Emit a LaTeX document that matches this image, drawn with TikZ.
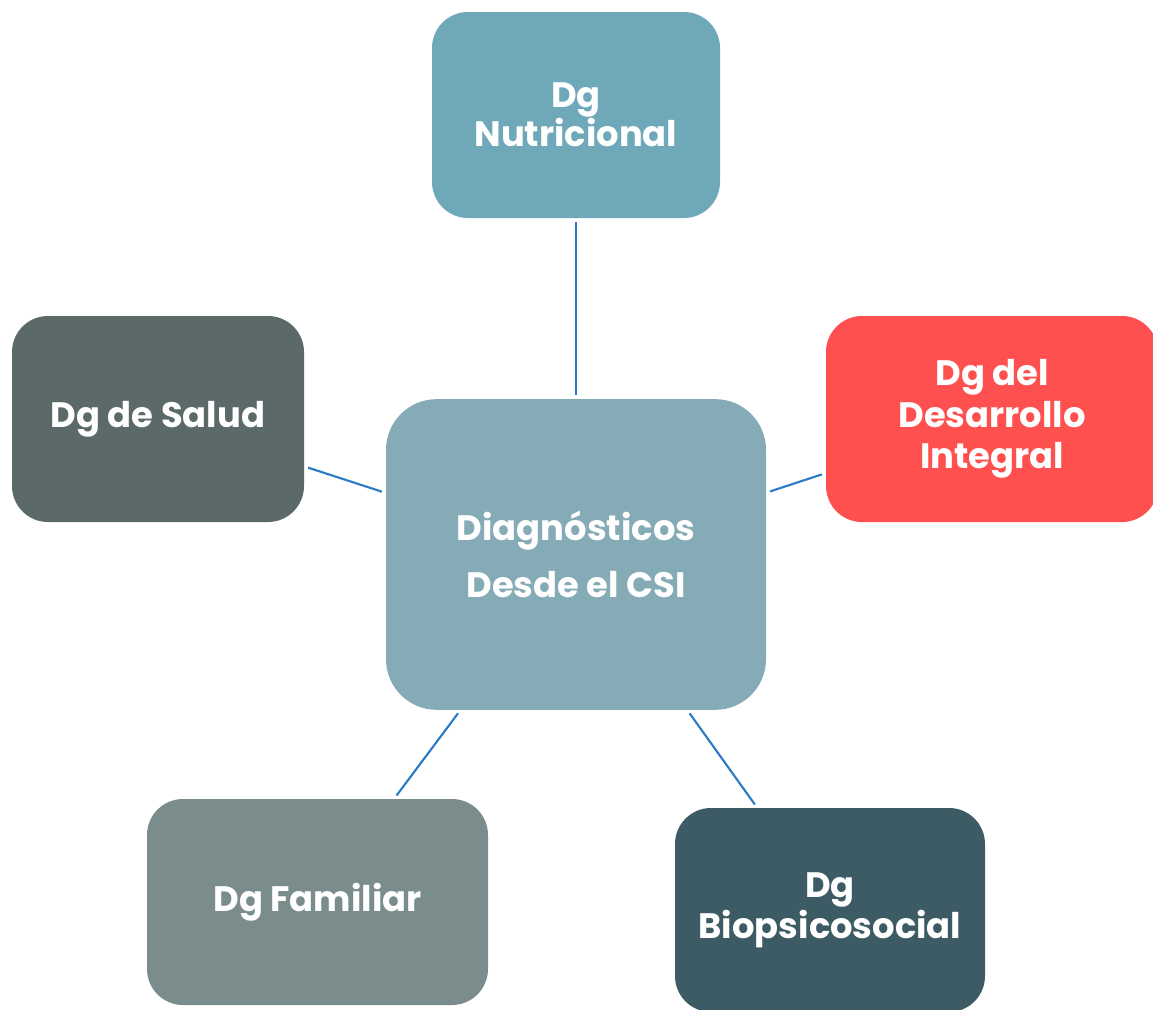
\documentclass[tikz,border=0pt]{standalone}
\usepackage{fontspec}
\setmainfont{Poppins}
\begin{document}
\begin{tikzpicture}[x=0.75pt,y=-0.75pt,
  box/.style={rectangle, rounded corners=27pt, text=white, align=center,
    font=\bfseries\fontsize{26.5}{29}\selectfont, inner sep=0pt},
  link/.style={draw=linkblue, line width=1.6pt, shorten <=3pt, shorten >=3pt}]
\definecolor{linkblue}{HTML}{2B7BC6}
\definecolor{cnutri}{HTML}{6FA8B9}
\definecolor{ccenter}{HTML}{85ABB6}
\definecolor{csalud}{HTML}{5B6968}
\definecolor{cdes}{HTML}{FF5050}
\definecolor{cfam}{HTML}{7B8C8D}
\definecolor{cbio}{HTML}{3C5B65}
\useasboundingbox[fill=white] (0,0) rectangle (1153,1010);
\node[box, fill=ccenter, minimum width=285pt, minimum height=233pt, rounded corners=38pt,
  font=\bfseries\fontsize{26.5}{43}\selectfont] (c) at (576,554.5) {Diagnósticos\\Desde el CSI};
\node[box, fill=cnutri, minimum width=216pt, minimum height=154.5pt] (n) at (576,115) {Dg\\Nutricional};
\node[box, fill=csalud, minimum width=219pt, minimum height=154.5pt] (s) at (158,419) {Dg de Salud};
\node[box, fill=cdes, minimum width=249pt, minimum height=154.5pt, font=\bfseries\fontsize{26.5}{31}\selectfont] (d) at (992,419) {Dg del\\Desarrollo\\Integral};
\node[box, fill=cfam, minimum width=255.75pt, minimum height=154.5pt] (f) at (317.5,902) {Dg Familiar};
\node[box, fill=cbio, minimum width=232.5pt, minimum height=153pt, font=\bfseries\fontsize{26.5}{31}\selectfont] (b) at (830,910) {Dg\\Biopsicosocial};
\draw[link] (c) -- (n);
\draw[link] (c) -- (s);
\draw[link] (c) -- (d);
\draw[link] (c) -- (f);
\draw[link] (c) -- (b);
\end{tikzpicture}
\end{document}
